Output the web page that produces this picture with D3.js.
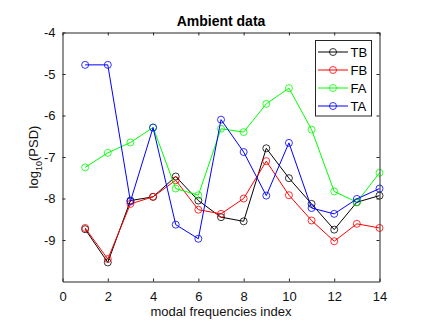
<!DOCTYPE html>
<html><head><meta charset="utf-8">
<script src="https://cdn.jsdelivr.net/npm/d3@7/dist/d3.min.js"></script>
<style>
html,body{margin:0;padding:0;background:#fff;}
svg{display:block;font-family:"Liberation Sans",Arial,sans-serif;}
</style></head>
<body>
<svg id="c" width="421" height="329"></svg>
<script>
const indices = [1,2,3,4,5,6,7,8,9,10,11,12,13,14];
const TB = [-8.74,-9.54,-8.05,-7.96,-7.47,-8.05,-8.45,-8.55,-6.79,-7.51,-8.13,-8.75,-8.09,-7.93];
const FB = [-8.71,-9.46,-8.13,-7.96,-7.56,-8.27,-8.37,-8.00,-7.10,-7.92,-8.53,-9.03,-8.61,-8.71];
const FA = [-7.25,-6.90,-6.65,-6.29,-7.76,-7.92,-6.32,-6.40,-5.72,-5.34,-6.34,-7.83,-8.09,-7.38];
const TA = [-4.78,-4.78,-8.07,-6.29,-8.63,-8.97,-6.10,-6.88,-7.93,-6.66,-8.23,-8.37,-8.01,-7.76];
const seriesNames = ["TB","FB","FA","TA"];
const seriesColors = ["#000000","#ff0000","#00ff00","#0000ff"];
const xTicks = [0,2,4,6,8,10,12,14];
const yTicks = [-9,-8,-7,-6,-5,-4];

const series = [TB,FB,FA,TA].map((v,i)=>({name:seriesNames[i],color:seriesColors[i],values:v}));

const svg = d3.select("#c");
const L = 62.5, R = 379.5, T = 32.5, B = 281.5;
const x = d3.scaleLinear().domain([0,14]).range([L,R]);
const y = d3.scaleLinear().domain([-10,-4]).range([B,T]);
const axisColor = "#262626";

// plot lines
const line = d3.line().x((d,i)=>x(indices[i])).y(d=>y(d));
const g = svg.append("g");
series.forEach(s=>{
  g.append("path").attr("d",line(s.values)).attr("fill","none")
    .attr("stroke",s.color).attr("stroke-width",1);
  g.selectAll(null).data(s.values).enter().append("circle")
    .attr("cx",(d,i)=>x(indices[i])).attr("cy",d=>y(d)).attr("r",3.5)
    .attr("fill","none").attr("stroke",s.color).attr("stroke-width",0.8);
});

// axes (ticks inward, box)
const axB = d3.axisBottom(x).tickValues(xTicks).tickSizeInner(-3).tickSizeOuter(0).tickPadding(10);
const axT = d3.axisTop(x).tickValues(xTicks).tickSizeInner(-3).tickSizeOuter(0).tickFormat("");
const axL = d3.axisLeft(y).tickValues(yTicks).tickSizeInner(-3).tickSizeOuter(0).tickPadding(7)
  .tickFormat(d3.format("d"));
const axR = d3.axisRight(y).tickValues(yTicks).tickSizeInner(-3).tickSizeOuter(0).tickFormat("");
function style(sel){
  sel.selectAll("path,line").attr("stroke",axisColor).attr("stroke-width",1);
  sel.selectAll("text").attr("fill","#111").attr("font-size",13)
     .attr("font-family","'Liberation Sans',Arial,sans-serif");
}
const gB = svg.append("g").attr("transform",`translate(0,${B})`).call(axB); style(gB);
const gT = svg.append("g").attr("transform",`translate(0,${T})`).call(axT); style(gT);
const gL = svg.append("g").attr("transform",`translate(${L},0)`).call(axL); style(gL);
const gR = svg.append("g").attr("transform",`translate(${R},0)`).call(axR); style(gR);
gL.selectAll("text").text(d=>"-"+Math.abs(d));
// MATLAB-like label rendering uses hyphen minus
gB.selectAll("text").attr("dy","0.71em");

// title
svg.append("text").attr("x",(L+R)/2).attr("y",26).attr("text-anchor","middle")
  .attr("font-size",14).attr("font-weight","bold").attr("fill","#000").text("Ambient data");
// x label
svg.append("text").attr("x",(L+R)/2).attr("y",316).attr("text-anchor","middle")
  .attr("font-size",13).attr("fill","#111").text("modal frequencies index");
// y label
const yl = svg.append("text").attr("transform",`translate(37.5,${(T+B)/2}) rotate(-90)`)
  .attr("text-anchor","middle").attr("font-size",13).attr("fill","#111");
yl.append("tspan").text("log");
yl.append("tspan").attr("font-size",9).attr("dy",4).text("10");
yl.append("tspan").attr("dy",-4).text("(PSD)");

// legend
const lg = svg.append("g");
lg.append("rect").attr("x",315.5).attr("y",40.5).attr("width",56).attr("height",75.5)
  .attr("fill","#fff").attr("stroke",axisColor).attr("stroke-width",1);
series.forEach((s,i)=>{
  const yy = 52 + i*18;
  lg.append("line").attr("x1",318).attr("x2",348).attr("y1",yy).attr("y2",yy)
    .attr("stroke",s.color).attr("stroke-width",1);
  lg.append("circle").attr("cx",333).attr("cy",yy).attr("r",3.5).attr("fill","none")
    .attr("stroke",s.color).attr("stroke-width",0.8);
  lg.append("text").attr("x",350.5).attr("y",yy+4.7).attr("font-size",13).attr("fill","#000").text(s.name);
});
</script>
</body></html>
